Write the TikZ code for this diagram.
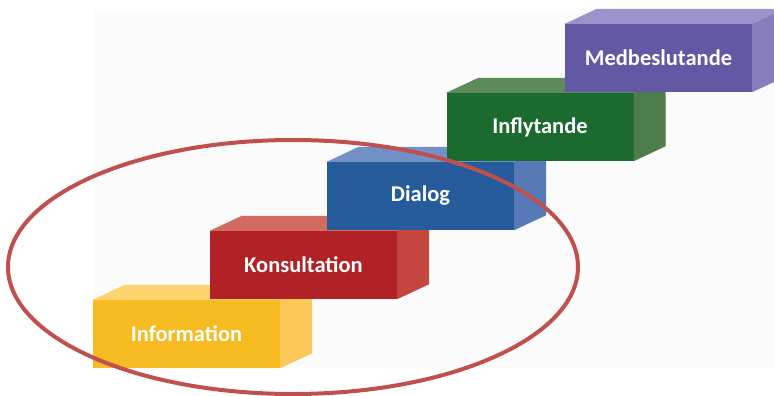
\documentclass[tikz,border=0pt]{standalone}
\usepackage{fontspec}
\setmainfont{Carlito}
\usetikzlibrary{shapes.geometric}
\definecolor{bgc}{HTML}{FBFBFB}
\definecolor{yF}{HTML}{F7BB22}\definecolor{yT}{HTML}{FDD36E}\definecolor{yS}{HTML}{FCC859}
\definecolor{rF}{HTML}{B22126}\definecolor{rT}{HTML}{D06B5E}\definecolor{rS}{HTML}{C4473F}
\definecolor{bF}{HTML}{265C9B}\definecolor{bT}{HTML}{7291C6}\definecolor{bS}{HTML}{5779B5}
\definecolor{gF}{HTML}{1B6A2F}\definecolor{gT}{HTML}{5C8A58}\definecolor{gS}{HTML}{4E7D4C}
\definecolor{pF}{HTML}{6258A4}\definecolor{pT}{HTML}{9D93CA}\definecolor{pS}{HTML}{877CBC}
\definecolor{ringc}{HTML}{C0504D}
\tikzset{
  frontbox/.style={rectangle, inner sep=0pt, minimum width=187pt, minimum height=68pt,
    text=white, font=\fontsize{22.5}{26}\selectfont\bfseries},
  ring/.style={ellipse, draw=ringc, line width=4pt, inner sep=0pt,
    minimum width=570pt, minimum height=254pt}
}
% #1 node name, #2 top colour, #3 side colour
\newcommand{\boxfaces}[3]{%
  \fill[#2] (#1.north west) -- ++(32,-15) -- ([xshift=32pt,yshift=15pt]#1.north east) -- (#1.north east) -- cycle;
  \fill[#3] (#1.north east) -- ++(32,-15) -- ([xshift=32pt,yshift=15pt]#1.south east) -- (#1.south east) -- cycle;
}
\begin{document}
\begin{tikzpicture}[x=1pt,y=-1pt]
\useasboundingbox (0,0) rectangle (774,396);
\begin{scope}
\clip (0,0) rectangle (774,396);
\fill[bgc] (93,9) rectangle (774,368);
\node[frontbox, fill=yF] (info) at (186.5,334) {Information};
\boxfaces{info}{yT}{yS}
\node[frontbox, fill=rF] (kons) at (303.5,265) {Konsultation};
\boxfaces{kons}{rT}{rS}
\node[frontbox, fill=bF] (dial) at (420.5,196) {Dialog};
\boxfaces{dial}{bT}{bS}
\node[frontbox, fill=gF] (infl) at (540,127) {Inflytande};
\boxfaces{infl}{gT}{gS}
\node[frontbox, fill=pF] (medb) at (658.5,58) {Medbeslutande};
\boxfaces{medb}{pT}{pS}
\node[ring] (circ) at (293,267) {};
\end{scope}
\end{tikzpicture}
\end{document}
